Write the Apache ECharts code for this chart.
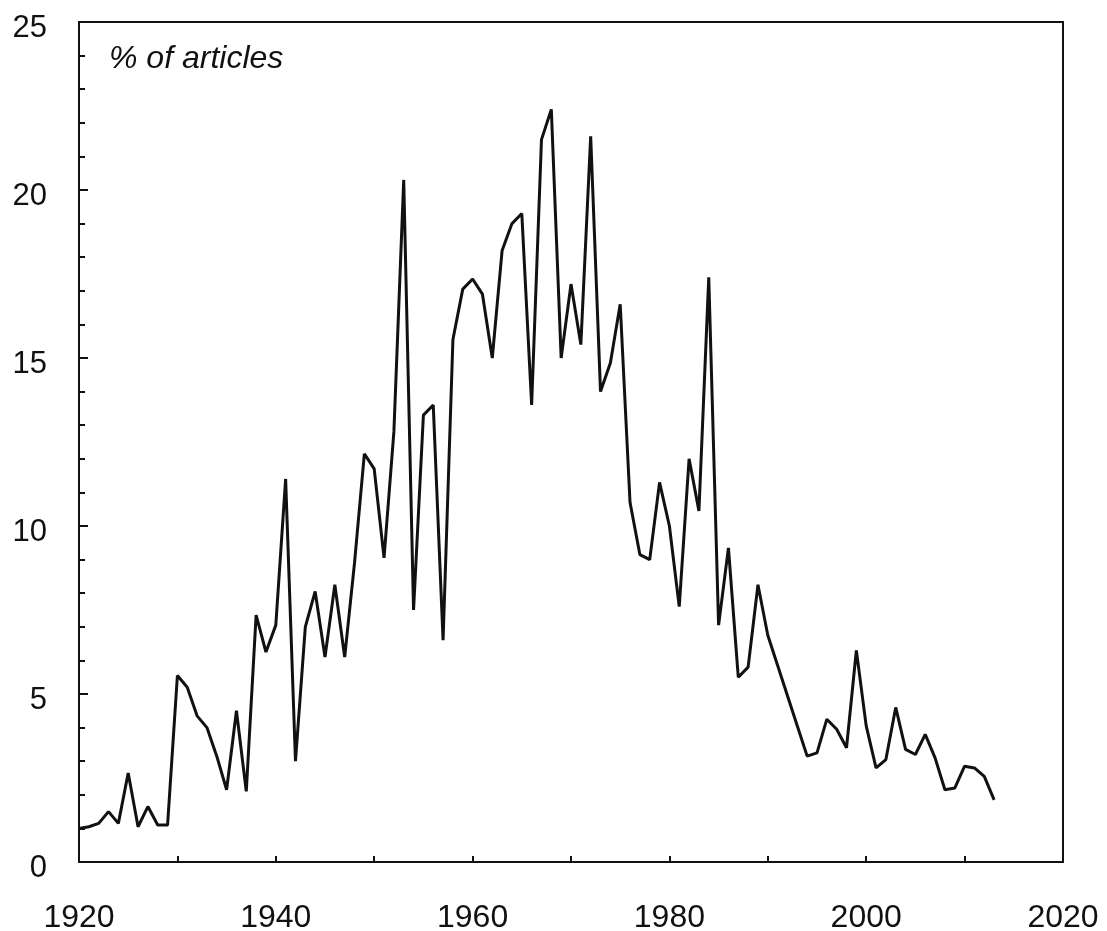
<!DOCTYPE html>
<html>
<head>
<meta charset="utf-8">
<script src="https://cdn.jsdelivr.net/npm/echarts@6/dist/echarts.min.js"></script>
<style>
html,body{margin:0;padding:0;background:#fff;}
#main{width:1107px;height:931px;}
</style>
</head>
<body>
<div id="main"></div>
<script>
// years 1920..2013, % of articles
var startYear = 1920;
var values = [
  1.0, 1.05, 1.15, 1.5, 1.15, 2.65, 1.05, 1.65, 1.1, 1.1,
  5.55, 5.2, 4.35, 4.0, 3.15, 2.15, 4.5, 2.1, 7.35, 6.25,
  7.05, 11.4, 3.0, 7.0, 8.05, 6.1, 8.25, 6.1, 8.9, 12.15,
  11.7, 9.05, 12.8, 20.3, 7.5, 13.3, 13.6, 6.6, 15.55, 17.05,
  17.35, 16.9, 15.0, 18.2, 19.0, 19.3, 13.6, 21.5, 22.4, 15.0,
  17.2, 15.4, 21.6, 14.0, 14.85, 16.6, 10.7, 9.15, 9.0, 11.3,
  10.0, 7.6, 12.0, 10.45, 17.4, 7.05, 9.35, 5.5, 5.8, 8.25,
  6.75, 5.85, 4.95, 4.05, 3.15, 3.25, 4.25, 3.95, 3.4, 6.3,
  4.05, 2.8, 3.05, 4.6, 3.35, 3.2, 3.8, 3.1, 2.15, 2.2,
  2.85, 2.8, 2.55, 1.85
];
var xLabels = [1920, 1940, 1960, 1980, 2000, 2020];
var yLabels = [0, 5, 10, 15, 20, 25];

var points = [];
for (var i = 0; i < values.length; i++) {
  points.push([startYear + i, values[i]]);
}

var myChart = echarts.init(document.getElementById('main'));
var font = 'Liberation Sans, Arial, sans-serif';

var option = {
  animation: false,
  backgroundColor: '#fff',
  title: {
    text: '% of articles',
    left: 104,
    top: 38,
    textStyle: {
      fontFamily: font,
      fontStyle: 'italic',
      fontWeight: 'normal',
      fontSize: 32,
      color: '#111'
    }
  },
  grid: {
    left: 79, right: 44, top: 22, bottom: 69,
    outerBoundsMode: 'none',
    containLabel: false,
    show: true,
    borderColor: '#111',
    borderWidth: 2
  },
  xAxis: {
    type: 'value',
    min: 1920,
    max: 2020,
    interval: 10,
    splitLine: { show: false },
    axisLine: { lineStyle: { color: '#111', width: 2 } },
    axisTick: { inside: true, length: 6, lineStyle: { color: '#111', width: 2 } },
    axisLabel: {
      margin: 40,
      fontFamily: font,
      fontSize: 32,
      color: '#111',
      formatter: function (v) {
        return xLabels.indexOf(v) >= 0 ? String(v) : '';
      }
    }
  },
  yAxis: {
    type: 'value',
    min: 0,
    max: 25,
    interval: 5,
    splitLine: { show: false },
    axisLine: { show: true, lineStyle: { color: '#111', width: 2 } },
    axisTick: { show: true, inside: true, length: 9, lineStyle: { color: '#111', width: 2 } },
    minorTick: { show: true, splitNumber: 5, length: 6, lineStyle: { color: '#111', width: 2 } },
    axisLabel: {
      margin: 32,
      fontFamily: font,
      fontSize: 31,
      color: '#111',
      formatter: function (v) {
        return yLabels.indexOf(v) >= 0 ? '{a|' + v + '}' : '';
      },
      rich: {
        a: {
          fontFamily: font,
          fontSize: 31,
          color: '#111',
          padding: [13, 0, 0, 0]
        }
      }
    }
  },
  series: [{
    type: 'line',
    data: points,
    showSymbol: false,
    lineStyle: { color: '#111', width: 3 },
    silent: true
  }]
};

myChart.setOption(option);
</script>
</body>
</html>
